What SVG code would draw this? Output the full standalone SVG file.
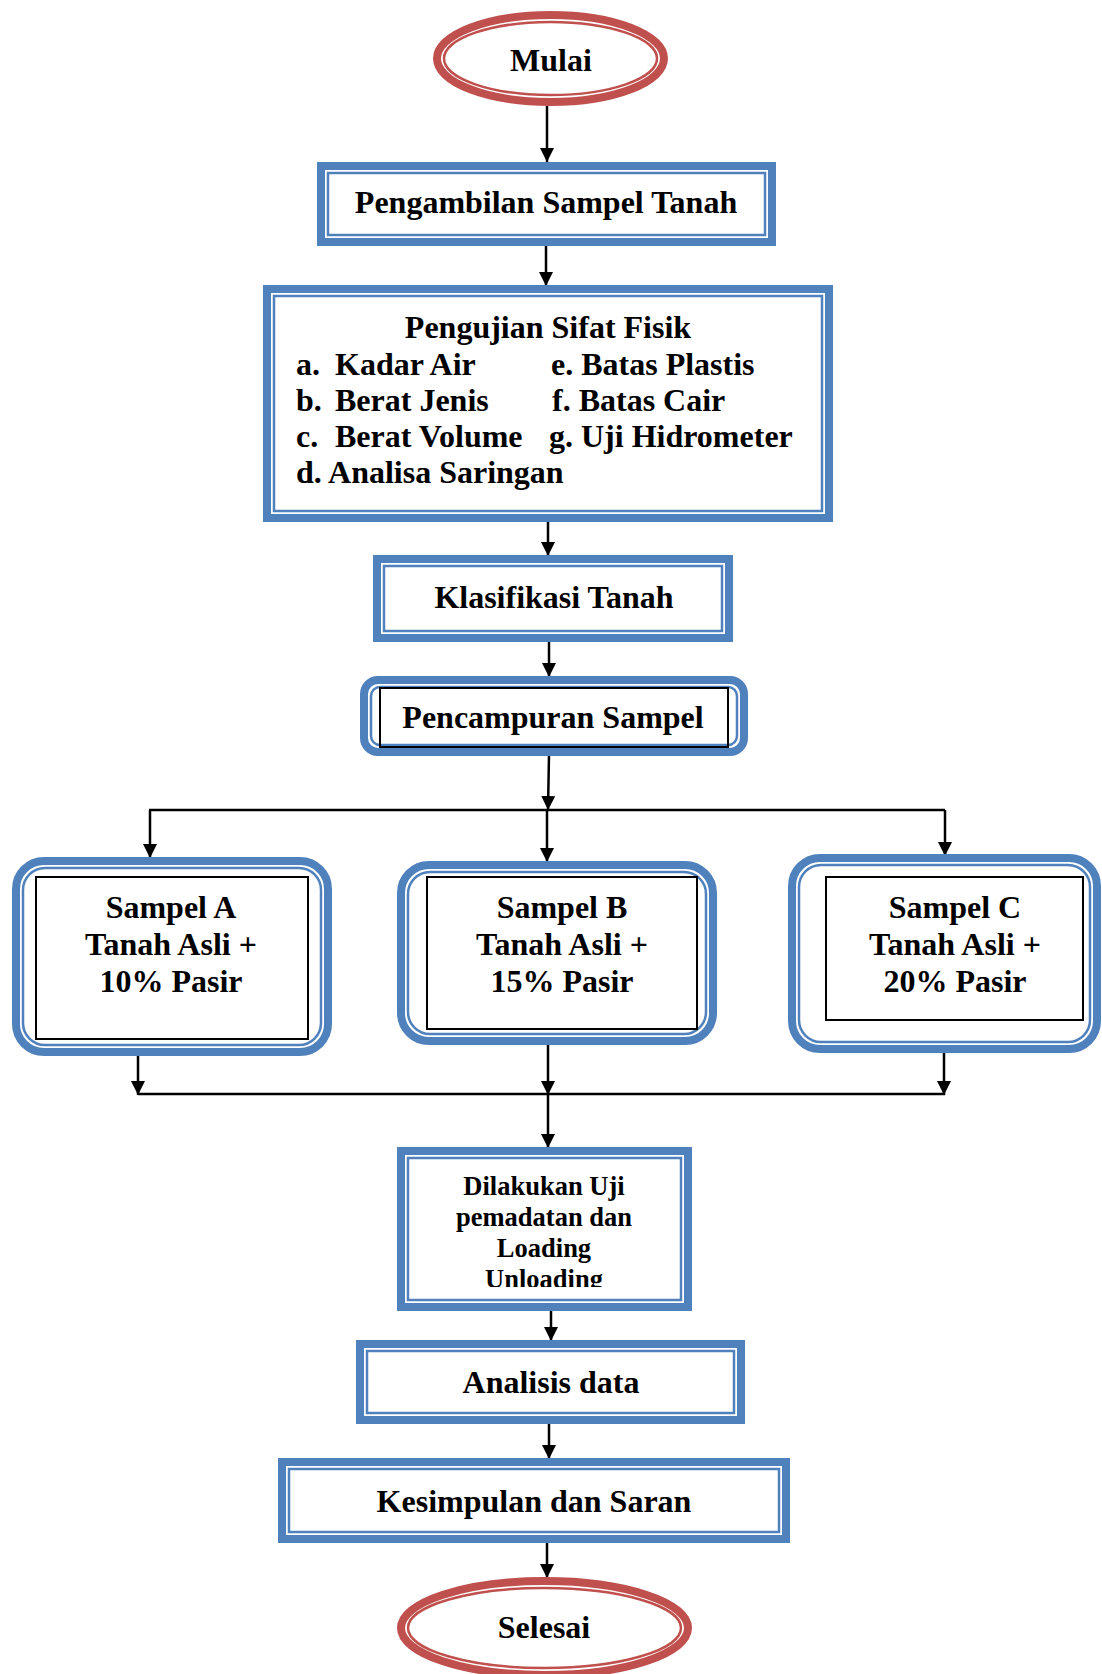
<svg xmlns="http://www.w3.org/2000/svg" width="1102" height="1674" viewBox="0 0 1102 1674">
<style>
.t{font-family:"Liberation Serif","Times New Roman",serif;font-weight:bold;font-size:32px;fill:#000}
.c{text-anchor:middle}
.s{font-size:26.5px}
.ob{fill:#fff;stroke:#4F81BD;stroke-width:8}
.ib{fill:none;stroke:#4F81BD;stroke-width:2.5}
.or{fill:#fff;stroke:#C0504D;stroke-width:8}
.ir{fill:none;stroke:#C0504D;stroke-width:2.5}
.bk{fill:none;stroke:#000;stroke-width:2}
.ln{fill:none;stroke:#000;stroke-width:2.5}
</style>
<defs>
<marker id="ah" markerUnits="userSpaceOnUse" markerWidth="16" markerHeight="16" viewBox="0 0 16 16" refX="14" refY="8" orient="auto">
<path d="M0,1 L14,8 L0,15 Z" fill="#000"/>
</marker>
<clipPath id="clipD"><rect x="400" y="1150" width="290" height="137"/></clipPath>
</defs>
<rect width="1102" height="1674" fill="#fff"/>

<g id="connectors">
<line class="ln" x1="547" y1="106" x2="547" y2="162" marker-end="url(#ah)"/>
<line class="ln" x1="546" y1="246" x2="546" y2="286" marker-end="url(#ah)"/>
<line class="ln" x1="548" y1="521" x2="548" y2="556" marker-end="url(#ah)"/>
<line class="ln" x1="549" y1="641" x2="549" y2="677" marker-end="url(#ah)"/>
<line class="ln" x1="549" y1="755" x2="548" y2="810" marker-end="url(#ah)"/>
<line class="ln" x1="149" y1="810" x2="945" y2="810"/>
<line class="ln" x1="150" y1="810" x2="150" y2="858" marker-end="url(#ah)"/>
<line class="ln" x1="547" y1="810" x2="547" y2="862" marker-end="url(#ah)"/>
<line class="ln" x1="945" y1="810" x2="945" y2="856" marker-end="url(#ah)"/>
<line class="ln" x1="138" y1="1055" x2="138" y2="1095" marker-end="url(#ah)"/>
<line class="ln" x1="548" y1="1045" x2="548" y2="1095" marker-end="url(#ah)"/>
<line class="ln" x1="944" y1="1053" x2="944" y2="1095" marker-end="url(#ah)"/>
<line class="ln" x1="138" y1="1094" x2="945" y2="1094"/>
<line class="ln" x1="548" y1="1094" x2="548" y2="1148" marker-end="url(#ah)"/>
<line class="ln" x1="551" y1="1310" x2="551" y2="1341" marker-end="url(#ah)"/>
<line class="ln" x1="549" y1="1424" x2="549" y2="1459" marker-end="url(#ah)"/>
<line class="ln" x1="547" y1="1543" x2="547" y2="1578" marker-end="url(#ah)"/>
</g>

<g id="mulai">
<ellipse class="or" cx="550.5" cy="58.5" rx="113.5" ry="43.5"/>
<ellipse class="ir" cx="550.5" cy="58.5" rx="106.5" ry="36.5"/>
<text class="t c" x="551" y="71">Mulai</text>
</g>

<g id="pengambilan">
<rect class="ob" x="321" y="166" width="451" height="76"/>
<rect class="ib" x="328" y="173" width="437" height="62"/>
<text class="t c" x="546" y="213">Pengambilan Sampel Tanah</text>
</g>

<g id="pengujian">
<rect class="ob" x="267" y="289" width="562" height="229"/>
<rect class="ib" x="274" y="296" width="548" height="215"/>
<text class="t c" x="548" y="338">Pengujian Sifat Fisik</text>
<text class="t" x="296" y="375">a.</text><text class="t" x="335" y="375">Kadar Air</text>
<text class="t" x="296" y="411">b.</text><text class="t" x="335" y="411">Berat Jenis</text>
<text class="t" x="296" y="447">c.</text><text class="t" x="335" y="447">Berat Volume</text>
<text class="t" x="296" y="483">d. Analisa Saringan</text>
<text class="t" x="551" y="375">e. Batas Plastis</text>
<text class="t" x="552" y="411">f. Batas Cair</text>
<text class="t" x="549" y="447">g. Uji Hidrometer</text>
</g>

<g id="klasifikasi">
<rect class="ob" x="377" y="559" width="352" height="79"/>
<rect class="ib" x="384" y="566" width="338" height="65"/>
<text class="t c" x="554" y="608">Klasifikasi Tanah</text>
</g>

<g id="pencampuran">
<rect class="ob" x="364" y="680" width="380" height="72" rx="14"/>
<rect class="ib" x="371" y="687" width="366" height="58" rx="9"/>
<rect class="bk" x="380" y="688" width="348" height="59"/>
<text class="t c" x="553" y="728">Pencampuran Sampel</text>
</g>

<g id="sampelA">
<rect class="ob" x="16" y="861" width="312" height="191" rx="28"/>
<rect class="ib" x="23" y="868" width="298" height="177" rx="22"/>
<rect class="bk" x="36" y="877" width="272" height="162"/>
<text class="t c" x="171" y="918">Sampel A</text>
<text class="t c" x="171" y="955">Tanah Asli +</text>
<text class="t c" x="171" y="992">10% Pasir</text>
</g>

<g id="sampelB">
<rect class="ob" x="401" y="865" width="312" height="176" rx="28"/>
<rect class="ib" x="408" y="872" width="298" height="162" rx="22"/>
<rect class="bk" x="427" y="877" width="270" height="152"/>
<text class="t c" x="562" y="918">Sampel B</text>
<text class="t c" x="562" y="955">Tanah Asli +</text>
<text class="t c" x="562" y="992">15% Pasir</text>
</g>

<g id="sampelC">
<rect class="ob" x="792" y="858" width="305" height="191" rx="28"/>
<rect class="ib" x="799" y="865" width="291" height="177" rx="22"/>
<rect class="bk" x="826" y="877" width="257" height="143"/>
<text class="t c" x="955" y="918">Sampel C</text>
<text class="t c" x="955" y="955">Tanah Asli +</text>
<text class="t c" x="955" y="992">20% Pasir</text>
</g>

<g id="dilakukan">
<rect class="ob" x="401" y="1151" width="287" height="156"/>
<rect class="ib" x="408" y="1158" width="273" height="142"/>
<g clip-path="url(#clipD)">
<text class="t s c" x="544" y="1195">Dilakukan Uji</text>
<text class="t s c" x="544" y="1226">pemadatan dan</text>
<text class="t s c" x="544" y="1257">Loading</text>
<text class="t s c" x="544" y="1288">Unloading</text>
</g>
</g>

<g id="analisis">
<rect class="ob" x="360" y="1344" width="381" height="76"/>
<rect class="ib" x="367" y="1351" width="367" height="62"/>
<text class="t c" x="551" y="1393">Analisis data</text>
</g>

<g id="kesimpulan">
<rect class="ob" x="282" y="1462" width="504" height="77"/>
<rect class="ib" x="289" y="1469" width="490" height="63"/>
<text class="t c" x="534" y="1512">Kesimpulan dan Saran</text>
</g>

<g id="selesai">
<ellipse class="or" cx="544.5" cy="1628" rx="143.5" ry="47"/>
<ellipse class="ir" cx="544.5" cy="1628" rx="136.5" ry="40"/>
<text class="t c" x="544" y="1638">Selesai</text>
</g>
</svg>
